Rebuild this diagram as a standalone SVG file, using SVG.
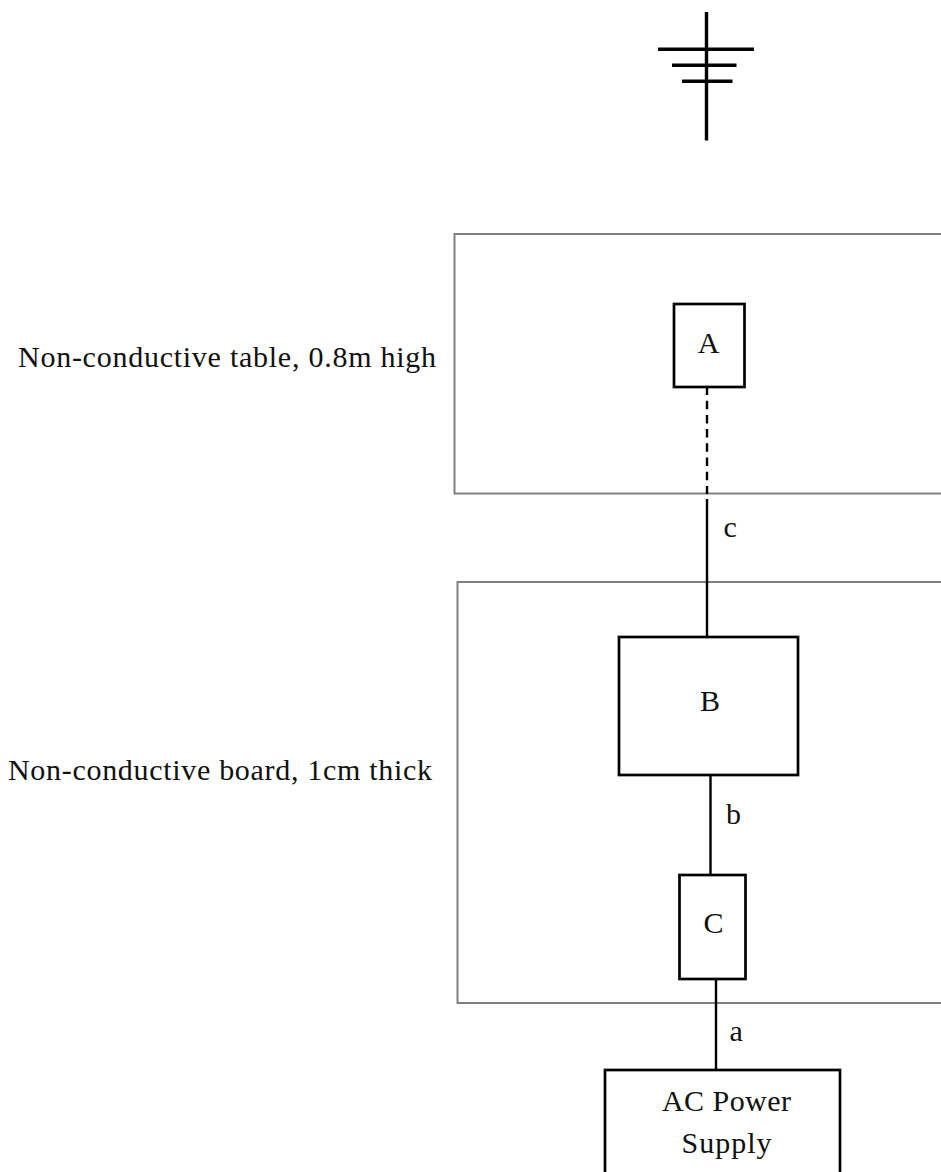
<svg xmlns="http://www.w3.org/2000/svg" width="941" height="1172" viewBox="0 0 941 1172">
<style>
.box{fill:#fff;stroke:#000;stroke-width:2.7}
.area{fill:#fff;stroke:#808080;stroke-width:2}
.wire{fill:none;stroke:#000;stroke-width:2.4}
.gnd{fill:none;stroke:#000;stroke-width:3.4}
text{font-family:"Liberation Serif","Times New Roman",serif;font-size:30px;fill:#111}
.m{text-anchor:middle}
</style>
<rect width="941" height="1172" fill="#fff"/>
<g id="ground">
<path class="gnd" d="M706.5 12V140.500M658 49.300H754M672 65.300H736.500M682 81.300H732.500"/>
</g>
<g id="table"><rect class="area" x="454.5" y="234" width="500" height="259.500"/></g>
<g id="board"><rect class="area" x="457.500" y="582" width="500" height="421"/></g>
<g id="connectors">
<path class="wire" d="M707 386.500V494" stroke-dasharray="8.500 5.700"/>
<path class="wire" d="M707 499V637M710.500 775V875M716 979V1070"/>
</g>
<g id="node-a"><rect class="box" x="674" y="304" width="70.500" height="83"/><text class="m" x="708.500" y="353">A</text></g>
<g id="node-b"><rect class="box" x="619" y="637" width="179" height="138"/><text class="m" x="710" y="711">B</text></g>
<g id="node-c"><rect class="box" x="679.500" y="875" width="66" height="104"/><text class="m" x="713.500" y="932.500">C</text></g>
<g id="node-power"><rect class="box" x="605" y="1070" width="235" height="130"/><text class="m" x="726.500" y="1110.500" textLength="129" lengthAdjust="spacing">AC Power</text><text class="m" x="726.500" y="1153" textLength="90" lengthAdjust="spacing">Supply</text></g>
<g id="labels">
<text x="18" y="367" textLength="418" lengthAdjust="spacing">Non-conductive table, 0.8m high</text>
<text x="8" y="779.500" textLength="424" lengthAdjust="spacing">Non-conductive board, 1cm thick</text>
<text x="723.500" y="536.500">c</text>
<text x="726" y="823.500">b</text>
<text x="729.500" y="1041">a</text>
</g>
</svg>
